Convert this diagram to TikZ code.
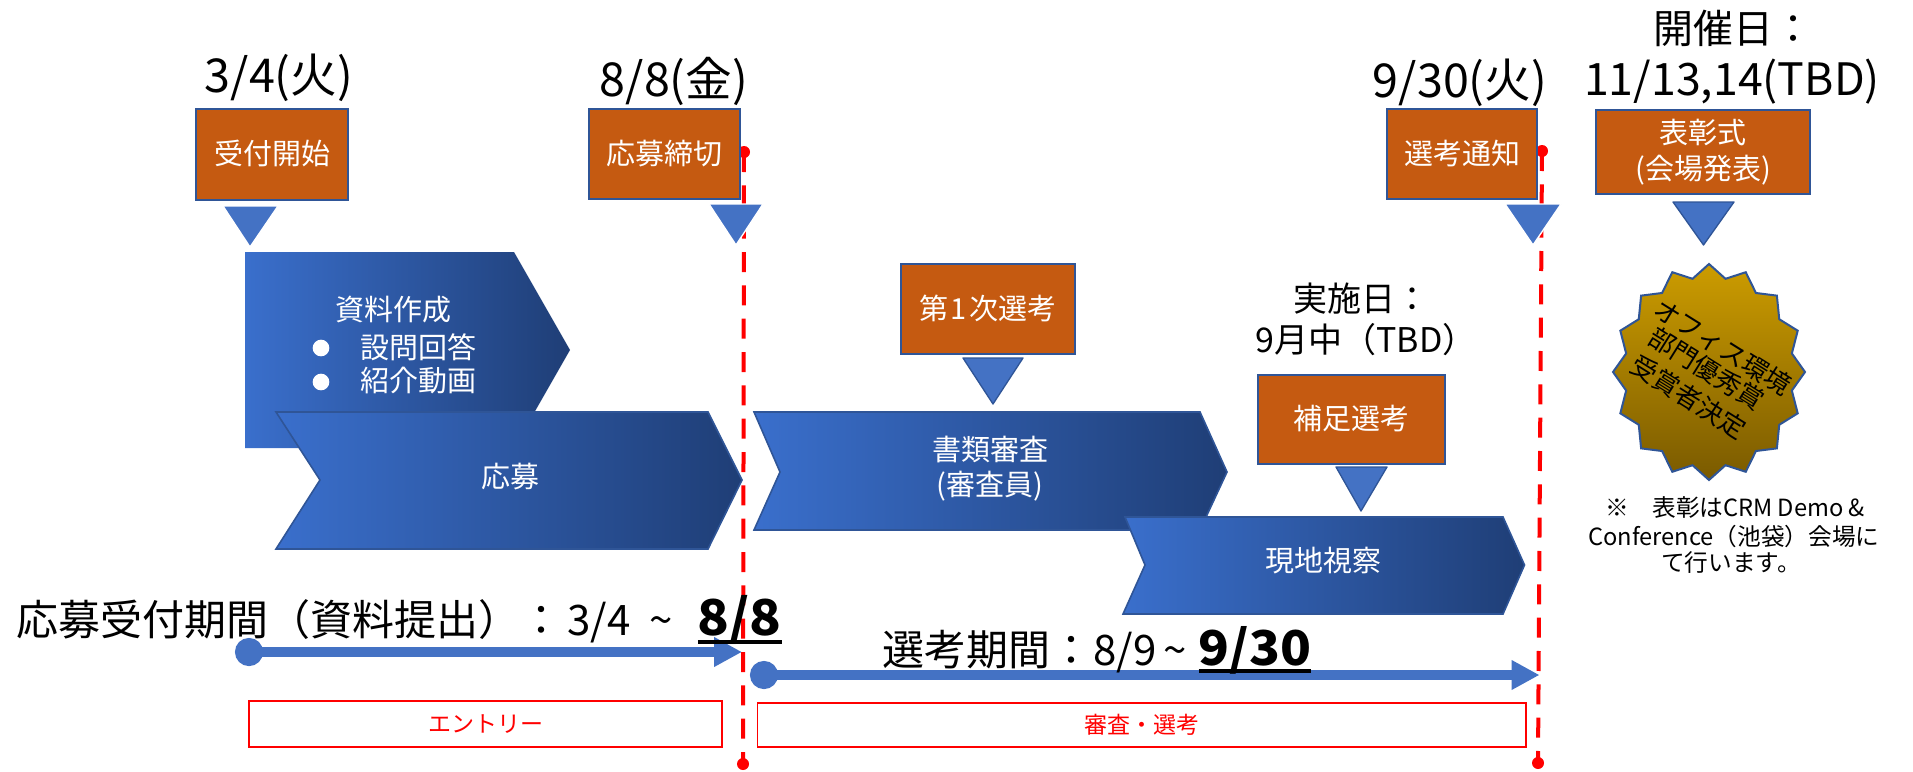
\documentclass[tikz,border=0pt]{standalone}
\usepackage{fontspec}
\usepackage{graphicx}
\setmainfont{Noto Sans CJK JP}
\usetikzlibrary{arrows.meta}
\definecolor{oboxfill}{HTML}{C55A11}
\definecolor{edgeblue}{HTML}{2F5597}
\definecolor{triblue}{HTML}{4472C4}
\definecolor{gradL}{HTML}{3A6FCC}
\definecolor{gradR}{HTML}{1F3E76}
\definecolor{goldT}{HTML}{CC9C00}
\definecolor{goldB}{HTML}{7A5A00}
\newcommand{\fs}[1]{\fontsize{#1}{#1}\selectfont}
\newcommand{\ubold}[2]{\setbox0=\hbox{\scalebox{1.06}[1]{\fs{#1}\bfseries #2}}\leavevmode\rlap{\raisebox{-6pt}{\rule{\wd0}{3pt}}}\box0}
\newcommand{\up}[1]{\raisebox{3pt}{#1}}
\newcommand{\obox}[6]{\node[oboxst,minimum width={(#4-#2)*0.75pt},minimum height={(#5-#3)*0.75pt}] (#1) at ({(#2+#4)/2},{(#3+#5)/2}) {#6};}
\newcommand{\rbox}[6]{\node[rboxst,minimum width={(#4-#2)*0.75pt},minimum height={(#5-#3)*0.75pt}] (#1) at ({(#2+#4)/2},{(#3+#5)/2}) {#6};}
\tikzset{
  oboxst/.style={draw=edgeblue,line width=1.5pt,fill=oboxfill,text=white,inner sep=0pt,align=center,font=\fs{21.75pt}},
  rboxst/.style={draw=red,line width=1.3pt,fill=white,text=red,inner sep=0pt,align=center,font=\fs{17.25pt}},
  chev/.style={draw=edgeblue,line width=1.2pt,left color=gradL,right color=gradR},
  tril/.style={fill=triblue,draw=white,line width=1pt,line join=round},
  trid/.style={fill=triblue,draw=edgeblue,line width=1pt,line join=round},
  lab/.style={inner sep=0pt,align=center},
  wlab/.style={lab,text=white,font=\fs{21.75pt}},
  date/.style={lab,font=\fs{35pt}},
  period/.style={lab,anchor=west,font=\fs{31.5pt}},
  redline/.style={draw=red,line width=3pt,dash pattern=on 15pt off 10pt},
  reddot/.style={circle,fill=red,inner sep=0pt,minimum size=9pt},
  span/.style={draw=triblue,line width=7.5pt,{Circle[length=21pt,width=21pt]}-{Triangle[length=21pt,width=21pt]}},
  stamp/.style={lab,font=\fs{19.5pt},rotate=-32},
}
\begin{document}
\begin{tikzpicture}[x=0.75pt,y=-0.75pt]
\useasboundingbox (0,0) rectangle (1913,771);
% red dashed time markers
\node[reddot] (d1a) at (744,152) {};
\node[reddot] (d1b) at (743,764) {};
\node[reddot] (d2a) at (1542,151) {};
\node[reddot] (d2b) at (1538,763) {};
\draw[redline] (d1a.center) -- (d1b.center);
\draw[redline] (d2a.center) -- (d2b.center);
% date labels
\node[date] (t1) at (279,78) {3/4(火)};
\node[date] (t2) at (674,81) {8/8(金)};
\node[date] (t3) at (1460,83) {9/30(火)};
\node[date,font=\fs{30pt}] (t4) at (1733,28) {開催日：};
\node[date,font=\fs{33.5pt}] (t5) at (1732,82) {11/13,14(TBD)};
% orange boxes
\obox{b1}{196}{109}{348}{200}{\up{受付開始}}
\obox{b2}{589}{109}{740}{199}{\up{応募締切}}
\obox{b3}{1387}{109}{1537}{199}{\up{選考通知}}
\obox{b4}{1596}{110}{1810}{194}{表彰式\\[5pt](会場発表)}
\obox{b5}{900.5}{264}{1075}{354}{\up{第\kern2pt1\kern2pt次選考}}
\obox{b6}{1258}{375}{1445}{464}{\up{補足選考}}
% triangles
\path[tril] (223,206) -- (278,206) -- (250,247) -- cycle;
\path[tril] (709,204) -- (763,204) -- (736,245) -- cycle;
\path[tril] (1505,204) -- (1561,204) -- (1533,245) -- cycle;
\path[trid] (1673,202) -- (1734,202) -- (1703.5,245) -- cycle;
\path[trid] (963,358) -- (1023,358) -- (993,404) -- cycle;
\path[trid] (1336,467) -- (1387,467) -- (1361,511) -- cycle;
% pentagons and chevrons
\path[left color=gradL,right color=gradR] (245,252) -- (514,252) -- (570,350) -- (514,448) -- (245,448) -- cycle;
\node[wlab] (p1) at (393,310) {資料作成};
\node[wlab] (p1a) at (418,347) {設問回答};
\node[wlab] (p1b) at (418,381) {紹介動画};
\node[circle,fill=white,inner sep=0pt,minimum size=12.5pt] (bu1) at (321,348) {};
\node[circle,fill=white,inner sep=0pt,minimum size=12.5pt] (bu2) at (321,382) {};
\path[chev] (276,412) -- (708,412) -- (742,480) -- (708,549) -- (276,549) -- (320,480) -- cycle;
\node[wlab] (c1) at (510,477) {応募};
\path[chev] (754,412) -- (1200,412) -- (1227,472) -- (1200,530) -- (754,530) -- (780,472) -- cycle;
\node[wlab] (c2a) at (990,449) {書類審査};
\node[wlab] (c2b) at (990,486) {(審査員)};
\path[chev] (1125,517) -- (1503,517) -- (1524.5,565) -- (1503,614) -- (1123,614) -- (1145,565) -- cycle;
\node[wlab] (c3) at (1323,561) {現地視察};
% held-on label
\node[lab,font=\fs{25.5pt}] (t6) at (1361,299) {実施日：};
\node[lab,font=\fs{25.5pt}] (t7) at (1366,340) {9月中（TBD）};
% star
\draw[draw=edgeblue,line width=1.5pt,top color=goldT,bottom color=goldB,line join=miter]
  plot[samples at={0,...,31},variable=\k] ({1709+(0.94+0.06*cos(\k*180))*96*sin(\k*11.25)},{372-(0.94+0.06*cos(\k*180))*108*cos(\k*11.25)}) -- cycle;
\node[stamp] (s1) at (1723,347) {オフィス環境};
\node[stamp] (s2) at (1707,369) {部門優秀賞};
\node[stamp] (s3) at (1689,397) {受賞者決定};
% note
\node[lab,font=\fs{17.75pt}] (n1) at (1735,508) {※　表彰はCRM Demo \&};
\node[lab,font=\fs{17.75pt}] (n2) at (1734,537) {Conference（池袋）会場に};
\node[lab,font=\fs{17.75pt}] (n3) at (1731,563) {て行います。};
% periods
\coordinate (a1s) at (235,652);
\coordinate (a1e) at (742,652);
\coordinate (a2s) at (750,675);
\coordinate (a2e) at (1539.5,675);
\draw[span] (a1s) -- (a1e);
\draw[span] (a2s) -- (a2e);
\node[period] (l1) at (16,620) {応募受付期間（資料提出）：\kern4pt3/4\kern14pt\textasciitilde\kern19pt\ubold{37pt}{8/8}};
\node[period] (l2) at (882,650) {選考期間：\kern1pt8/9\kern5pt\textasciitilde\kern9pt\ubold{36pt}{9/30}};
% red boxes
\rbox{r1}{249}{701}{722}{747}{エントリー}
\rbox{r2}{757.5}{703}{1526}{747}{審査・選考}
\end{tikzpicture}
\end{document}
